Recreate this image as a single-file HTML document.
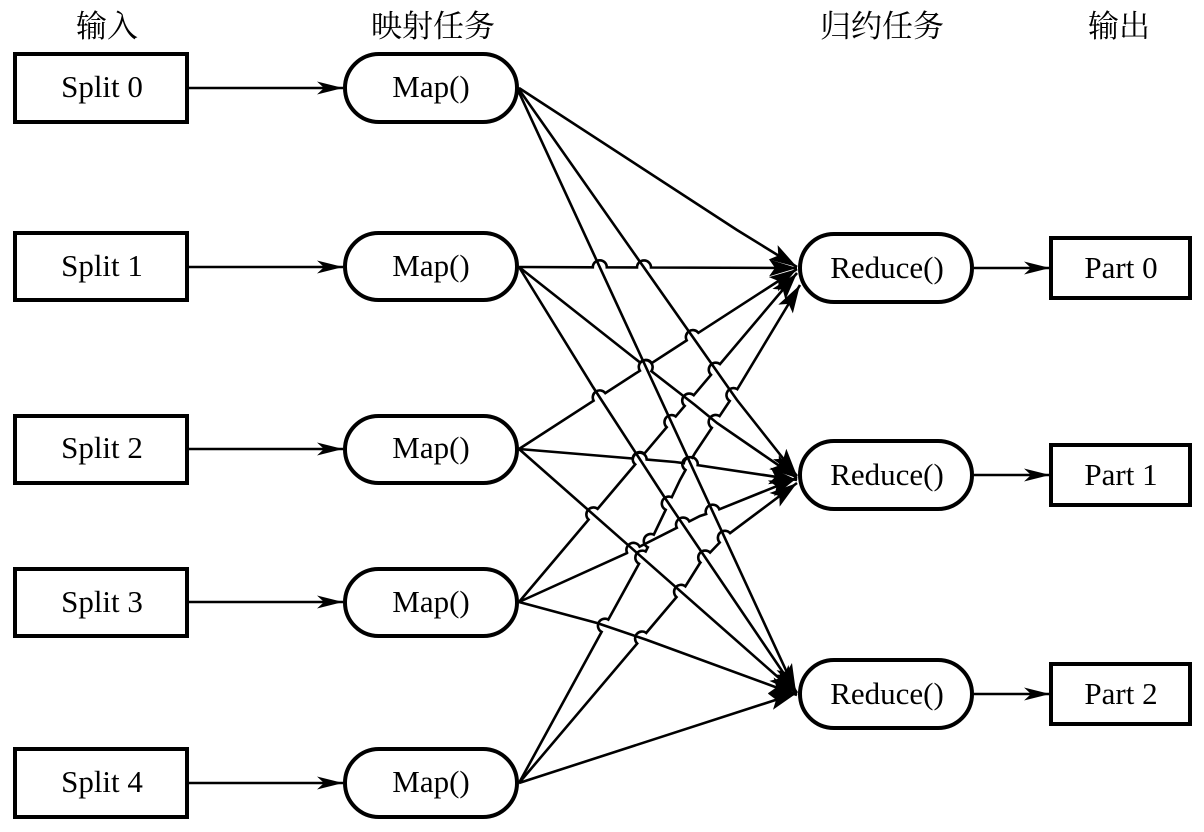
<!DOCTYPE html>
<html><head><meta charset="utf-8"><style>
html,body{margin:0;padding:0;background:#fff;width:1204px;height:832px;overflow:hidden}
svg{display:block}
text{font-family:"Liberation Serif","Noto Serif CJK SC",serif;fill:#000;text-anchor:middle}
.t{font-size:31px}
.h{font-size:31px}
.b{fill:#fff;stroke:#000;stroke-width:4}
.l{fill:none;stroke:#000;stroke-width:2.6}
.s{fill:none;stroke:#000;stroke-width:2.4}
</style></head><body>
<svg xmlns="http://www.w3.org/2000/svg" width="1204" height="832" viewBox="0 0 1204 832">
<defs>
<marker id="a" markerUnits="userSpaceOnUse" markerWidth="30" markerHeight="18" refX="26" refY="9" orient="auto"><path d="M0 2.5L26 9L0 15.5L7 9Z" fill="#000"/></marker>
<marker id="c" markerUnits="userSpaceOnUse" markerWidth="32" markerHeight="24" refX="28" refY="12" orient="auto"><path d="M0 3.5L28 12L0 20.5L6 12Z" fill="#000"/></marker>
</defs>
<text class="h" x="107" y="37">输入</text>
<text class="h" x="433" y="37">映射任务</text>
<text class="h" x="882" y="37">归约任务</text>
<text class="h" x="1119" y="37">输出</text>

<g id="w">
<path class="l" marker-end="url(#c)" d="M519 88L737 230L797 267"/>
<path class="l" marker-end="url(#c)" d="M518 88L737 400L797 476"/>
<path class="l" marker-end="url(#c)" d="M517 88L796 692"/>
<path class="l" marker-end="url(#c)" d="M519 267L797 268"/>
<path class="l" marker-end="url(#c)" d="M519 267L633 357L695 405L717 423L797 478"/>
<path class="l" marker-end="url(#c)" d="M519 267L593 387L665 498L797 693"/>
<path class="l" marker-end="url(#c)" d="M519 449L797 269"/>
<path class="l" marker-end="url(#c)" d="M519 449L675 462L697 465L797 480"/>
<path class="l" marker-end="url(#c)" d="M519 449L796 693"/>
<path class="l" marker-end="url(#c)" d="M519 602L797 273"/>
<path class="l" marker-end="url(#c)" d="M519 602L627 553L700 516L715 511L797 478"/>
<path class="l" marker-end="url(#c)" d="M519 602L597 623L647 640L797 695"/>
<path class="l" marker-end="url(#c)" d="M519 783L607 622L645 553L680 480L695 453L735 393L800 285"/>
<path class="l" marker-end="url(#c)" d="M519 783L647 632L685 587L700 563L725 537L797 483"/>
<path class="l" marker-end="url(#c)" d="M519 783L797 693"/>
</g>

<g>
<path class="s" marker-end="url(#a)" d="M189 88H343"/>
<path class="s" marker-end="url(#a)" d="M189 267H343"/>
<path class="s" marker-end="url(#a)" d="M189 449H343"/>
<path class="s" marker-end="url(#a)" d="M189 602H343"/>
<path class="s" marker-end="url(#a)" d="M189 783H343"/>
<path class="s" marker-end="url(#a)" d="M974 268H1050"/>
<path class="s" marker-end="url(#a)" d="M974 475H1050"/>
<path class="s" marker-end="url(#a)" d="M974 694H1050"/>
</g>

<rect class="b" x="15" y="54" width="172" height="68"/>
<rect class="b" x="15" y="233" width="172" height="67"/>
<rect class="b" x="15" y="416" width="172" height="67"/>
<rect class="b" x="15" y="569" width="172" height="67"/>
<rect class="b" x="15" y="749" width="172" height="68"/>

<rect class="b" x="345" y="54" width="172" height="68" rx="34"/>
<rect class="b" x="345" y="233" width="172" height="67" rx="33.5"/>
<rect class="b" x="345" y="416" width="172" height="67" rx="33.5"/>
<rect class="b" x="345" y="569" width="172" height="67" rx="33.5"/>
<rect class="b" x="345" y="749" width="172" height="68" rx="34"/>

<rect class="b" x="800" y="234" width="172" height="68" rx="34"/>
<rect class="b" x="800" y="441" width="172" height="68" rx="34"/>
<rect class="b" x="800" y="660" width="172" height="68" rx="34"/>

<rect class="b" x="1051" y="238" width="139" height="60"/>
<rect class="b" x="1051" y="445" width="139" height="60"/>
<rect class="b" x="1051" y="664" width="139" height="60"/>

<text class="t" x="102" y="97">Split 0</text>
<text class="t" x="102" y="276">Split 1</text>
<text class="t" x="102" y="458">Split 2</text>
<text class="t" x="102" y="612">Split 3</text>
<text class="t" x="102" y="792">Split 4</text>
<text class="t" x="431" y="97">Map()</text>
<text class="t" x="431" y="276">Map()</text>
<text class="t" x="431" y="458">Map()</text>
<text class="t" x="431" y="612">Map()</text>
<text class="t" x="431" y="792">Map()</text>
<text class="t" x="887" y="278">Reduce()</text>
<text class="t" x="887" y="485">Reduce()</text>
<text class="t" x="887" y="704">Reduce()</text>
<text class="t" x="1121" y="278">Part 0</text>
<text class="t" x="1121" y="485">Part 1</text>
<text class="t" x="1121" y="704">Part 2</text>
</svg>
<script>
(function(){
var P=[].slice.call(document.querySelectorAll('#w path'));
var L=P.map(function(p){var m=p.getAttribute('d').match(/[\d.]+/g).map(Number),q=[];for(var i=0;i<m.length;i+=2)q.push([m[i],m[i+1]]);return q;});
var r=7,f=function(v){return v.toFixed(1)};
L.forEach(function(pts,i){
 var cum=[0],k;
 for(k=0;k<pts.length-1;k++)cum.push(cum[k]+Math.hypot(pts[k+1][0]-pts[k][0],pts[k+1][1]-pts[k][1]));
 var total=cum[cum.length-1];
 function at(s){
  for(var n=0;n<pts.length-1;n++){
   if(s<=cum[n+1]){var q=(s-cum[n])/(cum[n+1]-cum[n]);return [pts[n][0]+q*(pts[n+1][0]-pts[n][0]),pts[n][1]+q*(pts[n+1][1]-pts[n][1])];}
  }
  return pts[pts.length-1];
 }
 var ts=[];
 for(k=0;k<pts.length-1;k++){
  var A=pts[k],B=pts[k+1],dx=B[0]-A[0],dy=B[1]-A[1];
  for(var j=0;j<i;j++){
   var Q=L[j];
   for(var m=0;m<Q.length-1;m++){
    var ex=Q[m+1][0]-Q[m][0],ey=Q[m+1][1]-Q[m][1],den=dx*ey-dy*ex;
    if(Math.abs(den)<1e-6)continue;
    var t=((Q[m][0]-A[0])*ey-(Q[m][1]-A[1])*ex)/den,u=((Q[m][0]-A[0])*dy-(Q[m][1]-A[1])*dx)/den;
    if(t>=0&&t<1&&u>=0&&u<=1&&A[0]+t*dx>560&&A[0]+t*dx<775)ts.push(cum[k]+t*(cum[k+1]-cum[k]));
   }
  }
 }
 ts.sort(function(x,y){return x-y});
 var d='M'+pts[0][0]+' '+pts[0][1],pos=0,last=-1e9;
 ts.forEach(function(s){
  if(s-r<last)return;
  for(var n=1;n<pts.length-1;n++){if(cum[n]>pos&&cum[n]<s-r)d+='L'+pts[n][0]+' '+pts[n][1];}
  var a=at(s-r),b=at(s+r);
  d+='L'+f(a[0])+' '+f(a[1])+'A'+r+' '+r+' 0 0 1 '+f(b[0])+' '+f(b[1]);
  pos=s+r;last=s+r;
 });
 for(var n=1;n<pts.length-1;n++){if(cum[n]>pos)d+='L'+pts[n][0]+' '+pts[n][1];}
 d+='L'+pts[pts.length-1][0]+' '+pts[pts.length-1][1];
 P[i].setAttribute('d',d);
});
})();
</script>
</body></html>
